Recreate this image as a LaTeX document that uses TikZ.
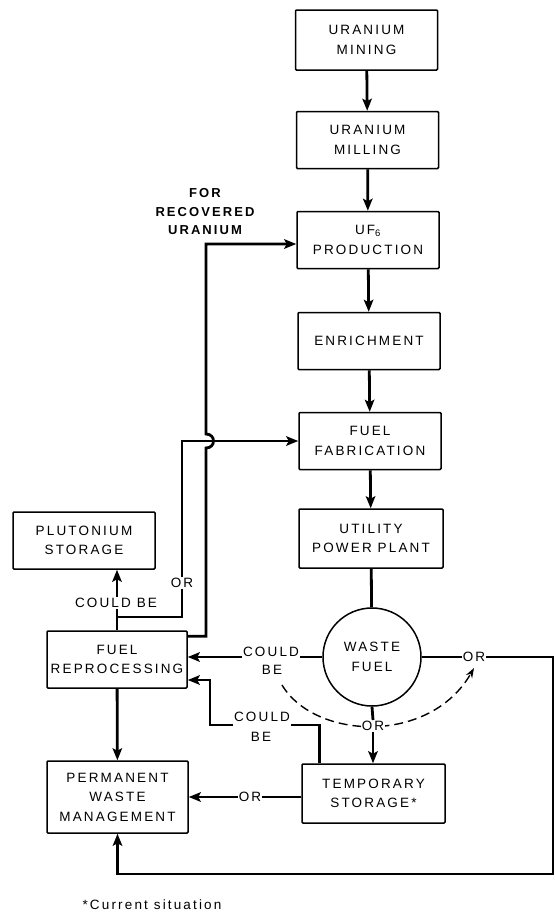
\documentclass[tikz,border=0pt]{standalone}
\usepackage{fontspec}
\setmainfont{Liberation Sans}[LetterSpace=16]
\usetikzlibrary{arrows.meta}

\begin{document}
\begin{tikzpicture}[x=1pt,y=-1pt,>={Stealth[length=12pt,width=9.5pt,inset=2.5pt]},
    font=\fontsize{13.5}{19.5}\selectfont]
    \tikzstyle{box}=[draw, line width=1.5pt, rounded corners=1pt, minimum width=142pt, minimum height=57pt, inner sep=1pt, align=center]
    \tikzstyle{flow}=[->, line width=2.8pt]
    \tikzstyle{link}=[line width=2.8pt]
    \tikzstyle{dashflow}=[->, >={Stealth[length=10pt,width=7pt]}, line width=1.4pt, dash pattern=on 9pt off 5pt]
    \tikzstyle{tag}=[inner sep=1pt, fill=white]
    \useasboundingbox (0,0) rectangle (556,914);
    % main column
    \node[box, minimum height=60pt] (mine) at (366.5, 40) {URANIUM\\MINING};
    \node[box] (mill) at (367.5, 140) {URANIUM\\MILLING};
    \node[box] (uf) at (368, 240) {UF\textsubscript{6}\\PRODUCTION};
    \node[box] (enr) at (369, 341) {ENRICHMENT};
    \node[box] (fab) at (370, 441) {FUEL\\FABRICATION};
    \node[box, minimum width=144pt, minimum height=59pt] (upp) at (371, 538.5) {UTILITY\\POWER PLANT};
    \node[draw, circle, line width=1.5pt, minimum size=98pt, inner sep=0pt, align=center] (wf) at (372, 657) {WASTE\\FUEL};
    \node[box, minimum width=143pt, minimum height=59pt] (ts) at (373.5, 793.5) {TEMPORARY\\STORAGE*};
    % left column
    \node[box] (ps) at (84, 540.5) {PLUTONIUM\\STORAGE};
    \node[box, minimum width=140pt] (fr) at (117, 659.5) {FUEL\\REPROCESSING};
    \node[box, minimum width=141pt, minimum height=72pt] (pwm) at (117.5, 797) {PERMANENT\\WASTE\\MANAGEMENT};
    % dashed choice under the waste fuel
    \coordinate (d1) at (282, 685);
    \coordinate (d2) at (474, 668);
    \draw[dashflow] (d1) .. controls (315, 740) and (430, 745) .. (d2);
    % labels
    \node[tag] (cb1) at (271, 652) {COULD};
    \node[tag] (be1) at (272, 670) {BE};
    \node[tag] (cb2) at (262, 717) {COULD};
    \node[tag] (be2) at (261, 737) {BE};
    \node[tag] (cb3) at (116, 603) {COULD BE};
    \node[tag] (or1) at (182, 583) {OR};
    \node[tag] (or2) at (373, 726) {OR};
    \node[tag] (or3) at (474, 657) {OR};
    \node[tag] (or4) at (250, 797) {OR};
    \node[align=center, font=\bfseries\fontsize{13}{18.5}\selectfont] (rec) at (205, 212) {FOR\\RECOVERED\\URANIUM};
    \node (note) at (152, 905) {*Current situation};
    % corners
    \coordinate (se) at (553, 874);
    \coordinate (k2) at (210, 725);
    \coordinate (k3) at (210, 680);
    \coordinate (jr) at (117, 617);
    \coordinate (h1) at (206, 448);
    \coordinate (h2) at (206, 434);
    % fuel cycle
    \draw[flow] (mine) -- (mill);
    \draw[flow] (mill) -- (uf);
    \draw[flow] (uf) -- (enr);
    \draw[flow] (enr) -- (fab);
    \draw[flow] (fab) -- (upp);
    \draw[link] (upp) -- (wf);
    % waste fuel
    \draw[link] (wf.west) -- (cb1.east |- wf);
    \draw[flow] (cb1.west |- wf) -- (fr.east |- wf);
    \draw[link] (wf.south) -- (or2.north);
    \draw[flow] (or2.south) -- (or2.south |- ts.north);
    \draw[link] (wf.east) -- (or3.west);
    \draw[flow] (or3.east) -| (se) -| (pwm.south);
    % temporary storage
    \draw[link] (ts.west |- or4) -- (or4.east);
    \draw[flow] (or4.west) -- (pwm.east |- or4);
    \draw[link] ([xshift=18pt]ts.north west) |- (cb2.east |- k2);
    \draw[flow] (cb2.west |- k2) -- (k2) -- (k3) -- (fr.east |- k3);
    % fuel reprocessing
    \draw[flow] (fr) -- (pwm);
    \draw[link] (fr.north) -- (jr);
    \draw[link] (jr) -- (jr |- cb3.south);
    \draw[flow] (jr |- cb3.north) -- (jr |- ps.south);
    \draw[link] (jr) -| (or1.south);
    \draw[flow] (or1.north) |- (fab.west);
    \draw[flow] ([yshift=-6pt]fr.north east) -| (h1) .. controls +(10,0) and +(10,0) .. (h2) |- ([yshift=-4pt]uf.west);
\end{tikzpicture}
\end{document}
